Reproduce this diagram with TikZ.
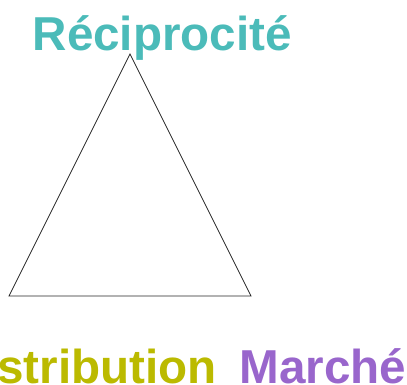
\documentclass[tikz,border=0pt]{standalone}
\usepackage{fontspec}
\setmainfont{Liberation Sans}
\usepackage{xcolor}
\usepackage{tikz}
\definecolor{recipteal}{RGB}{75,187,185}
\definecolor{redisolive}{RGB}{187,186,0}
\definecolor{marchepurple}{RGB}{153,102,204}
\usetikzlibrary{positioning,calc}

\begin{document}
\begin{tikzpicture}[
    x=1pt, y=-1pt,
    pole/.style={inner sep=0pt, anchor=base west, font=\fontsize{47.6}{56}\selectfont\bfseries},
    side/.style={draw=black!85, line width=0.8pt, line join=miter}
]

% Frame
\useasboundingbox (0,0) rectangle (407,385);
\clip (0,0) rectangle (407,385);

% Corners of the triangle
\coordinate (top) at (130,54);
\coordinate (left) at (9,296);
\coordinate (right) at (251,296);

% Poles
\node[pole, text=recipteal] (recip) at (32.5,51) {Réciprocité};
\node[pole, text=redisolive] (redis) at (-106,383) {Redistribution};
\node[pole, text=marchepurple] (marche) at (239.5,383) {Marché};

% Triangle
\draw[side] (top) -- (left) -- (right) -- cycle;

\end{tikzpicture}
\end{document}
